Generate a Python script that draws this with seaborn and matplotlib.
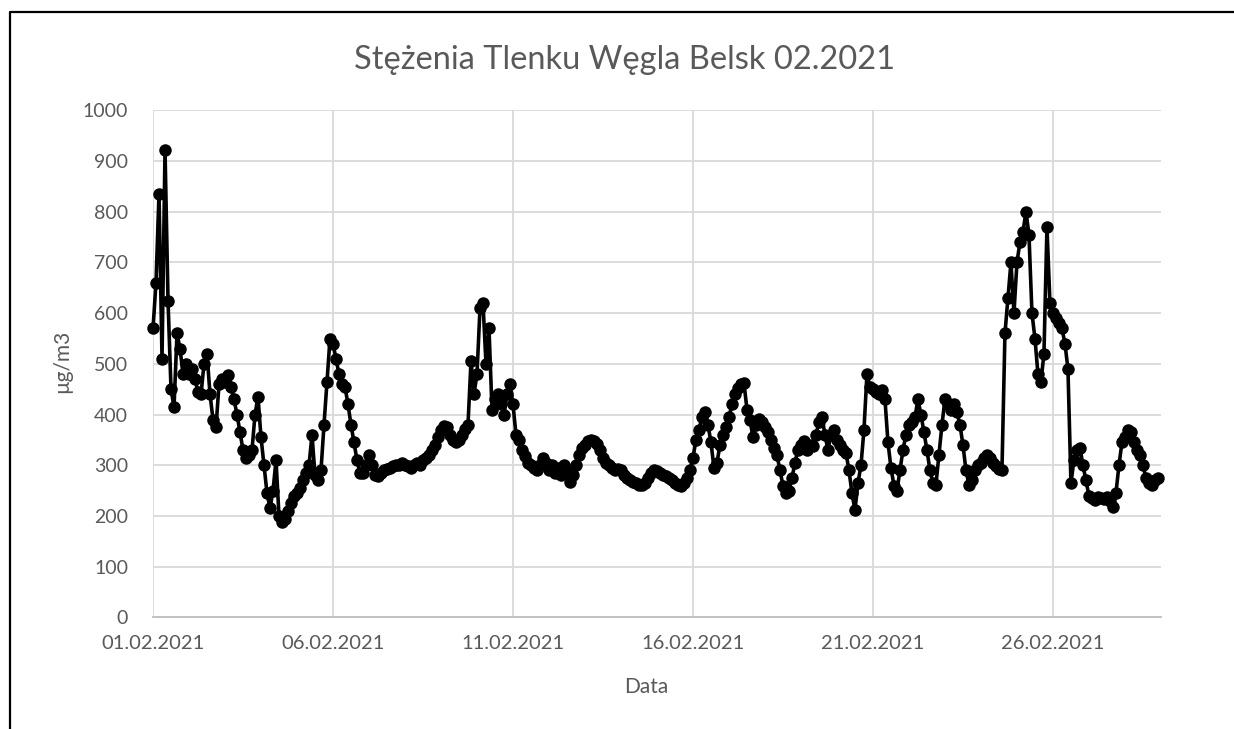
import numpy as np
import pandas as pd
import matplotlib
matplotlib.use("Agg")
import matplotlib.pyplot as plt
from matplotlib.lines import Line2D
import seaborn as sns

# =======================
# Data (CO concentration, Belsk, every 2 hours)
# =======================
co_week1 = [
    570, 660, 836, 510, 922, 625, 450, 415, 560, 530, 480, 500,   # 01.02
    480, 490, 470, 445, 440, 500, 520, 440, 390, 375, 460, 470,   # 02.02
    465, 478, 455, 430, 400, 365, 330, 315, 320, 330, 400, 435,   # 03.02
    355, 300, 245, 215, 250, 310, 200, 188, 195, 210, 225, 240,   # 04.02
    245, 255, 270, 285, 300, 360, 280, 270, 290, 380, 465, 550,   # 05.02
    540, 510, 480, 460, 455, 420, 380, 345, 310, 285, 285, 300,   # 06.02
    320, 300, 280, 278, 285, 290, 292, 295, 298, 300, 300, 305,   # 07.02
]
co_week2 = [
    300, 298, 295, 300, 305, 300, 310, 315, 320, 330, 340, 355,   # 08.02
    370, 378, 375, 360, 350, 345, 350, 360, 372, 380, 505, 440,   # 09.02
    480, 610, 620, 500, 570, 410, 430, 440, 420, 400, 440, 460,   # 10.02
    420, 360, 350, 330, 318, 305, 300, 295, 290, 300, 315, 305,   # 11.02
    290, 300, 285, 295, 280, 300, 290, 268, 280, 300, 320, 335,   # 12.02
    340, 348, 350, 348, 342, 330, 315, 305, 300, 295, 290, 292,   # 13.02
    290, 280, 275, 270, 268, 265, 262, 262, 265, 275, 285, 290,   # 14.02
]
co_week3 = [
    288, 285, 280, 278, 275, 270, 265, 262, 260, 265, 275, 290,   # 15.02
    315, 350, 370, 395, 405, 380, 345, 295, 305, 340, 360, 375,   # 16.02
    395, 420, 440, 452, 460, 462, 410, 390, 355, 380, 392, 385,   # 17.02
    375, 365, 350, 335, 320, 290, 260, 245, 250, 275, 305, 330,   # 18.02
    340, 348, 330, 340, 338, 360, 385, 395, 360, 330, 360, 370,   # 19.02
    350, 340, 330, 325, 290, 245, 212, 265, 300, 370, 480, 455,   # 20.02
    450, 445, 440, 448, 430, 345, 295, 260, 250, 290, 330, 360,   # 21.02
]
co_week4 = [
    380, 385, 395, 430, 400, 365, 330, 290, 265, 262, 320, 380,   # 22.02
    430, 420, 410, 420, 405, 380, 340, 290, 262, 270, 290, 300,   # 23.02
    305, 315, 320, 315, 305, 298, 292, 290, 560, 630, 700, 600,   # 24.02
    700, 740, 760, 800, 755, 600, 550, 480, 465, 520, 770, 620,   # 25.02
    600, 590, 580, 570, 540, 490, 265, 310, 330, 335, 300, 270,   # 26.02
    240, 235, 232, 238, 235, 233, 238, 230, 218, 245, 300, 345,   # 27.02
    355, 370, 365, 345, 330, 320, 300, 275, 265, 262, 270, 275,   # 28.02
]

tick_dates = ["2021-02-01", "2021-02-06", "2021-02-11", "2021-02-16", "2021-02-21", "2021-02-26"]
tick_labels = ["01.02.2021", "06.02.2021", "11.02.2021", "16.02.2021", "21.02.2021", "26.02.2021"]
y_ticks = [0, 100, 200, 300, 400, 500, 600, 700, 800, 900, 1000]

concentration = co_week1 + co_week2 + co_week3 + co_week4
df = pd.DataFrame({
    "Data": pd.date_range("2021-02-01 00:00", periods=len(concentration), freq="2h"),
    "CO": concentration,
})

# =======================
# Plot
# =======================
sns.set_theme(style="white")
plt.rcParams["font.family"] = ["Lato", "DejaVu Sans"]
txt = "#595959"

fig = plt.figure(figsize=(12.34, 7.29), dpi=100)
ax = fig.add_axes([0.124, 0.1531, 0.8168, 0.6955])

sns.lineplot(data=df, x="Data", y="CO", ax=ax, color="black", linewidth=2.6,
             marker="o", markersize=9, markeredgewidth=0, zorder=3, clip_on=False)

ax.set_ylim(0, 1000)
ax.set_yticks(y_ticks)
ax.set_xlim(pd.Timestamp("2021-02-01"), pd.Timestamp("2021-03-01"))
ax.set_xticks(pd.to_datetime(tick_dates))
ax.set_xticklabels(tick_labels)

ax.grid(True, color="#d9d9d9", linewidth=1.3)
ax.set_axisbelow(True)
for side in ["left", "top", "right"]:
    ax.spines[side].set_visible(False)
ax.spines["bottom"].set_color("#bfbfbf")
ax.spines["bottom"].set_linewidth(1.3)

ax.tick_params(axis="y", length=0, pad=18, labelsize=14, labelcolor=txt)
ax.tick_params(axis="x", length=0, pad=13, labelsize=14.5, labelcolor=txt)

ax.set_xlabel("Data", fontsize=15, color=txt)
ax.xaxis.set_label_coords(0.489, -0.118)
ax.set_ylabel("µg/m3", fontsize=15, color=txt)
ax.yaxis.set_label_coords(-0.080, 0.504)

fig.text(625 / 1234, 1 - 60 / 729, "Stężenia Tlenku Węgla Belsk 02.2021",
         ha="center", va="center", fontsize=23.5, color=txt)

# chart frame (left and top edges visible)
fig.add_artist(Line2D([10 / 1234, 10 / 1234, 1.0], [0.0, 1 - 12 / 729, 1 - 12 / 729],
                      color="black", linewidth=1.6, transform=fig.transFigure))

fig.savefig("out.png", dpi=100)
